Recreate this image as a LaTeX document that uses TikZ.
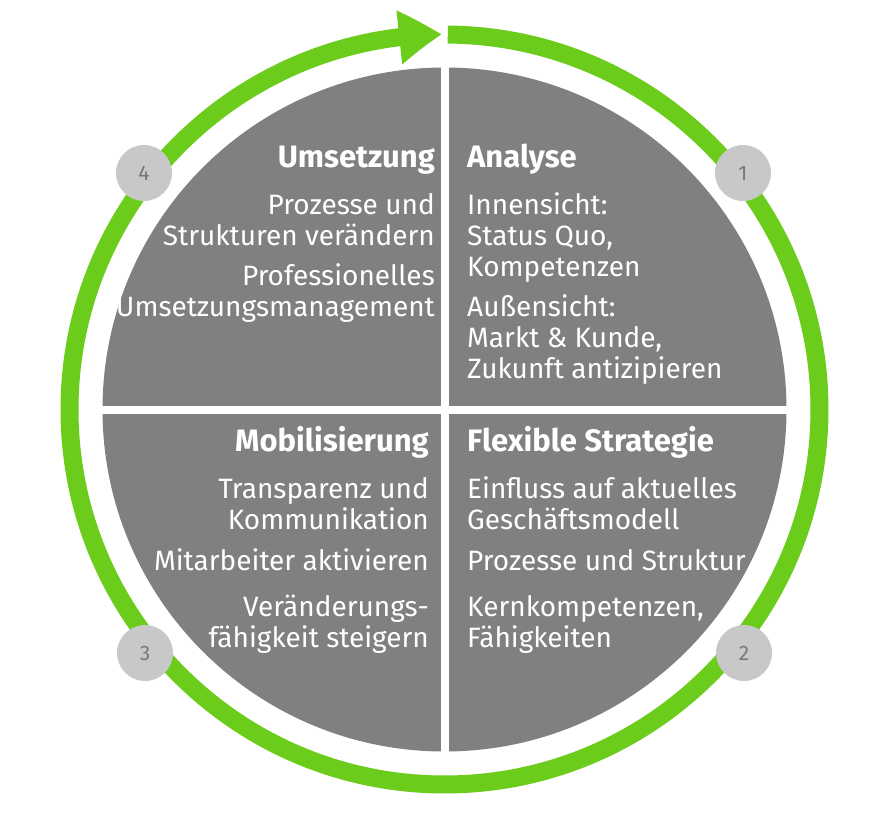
\documentclass[tikz,border=0pt]{standalone}
\usepackage{fontspec}
\setmainfont{Fira Sans}
\usetikzlibrary{arrows.meta,bending}
\definecolor{ringgreen}{RGB}{108,204,28}
\definecolor{quadgray}{RGB}{128,128,128}
\definecolor{stepgray}{RGB}{200,200,200}
\definecolor{numgray}{RGB}{120,120,120}
\tikzset{
  txt/.style={inner sep=0pt, text=white, font=\fontsize{28}{31}\selectfont},
  headl/.style={txt, anchor=base east, align=right, font=\fontsize{31}{31}\selectfont\bfseries},
  headr/.style={txt, anchor=base west, align=left, font=\fontsize{31}{31}\selectfont\bfseries},
  iteml/.style={txt, anchor=base east, align=right},
  itemr/.style={txt, anchor=base west, align=left},
  stepdot/.style={circle, fill=stepgray, minimum size=56pt, inner sep=0pt,
    text=numgray, font=\fontsize{21}{21}\selectfont},
  ring/.style={draw=ringgreen, line width=18pt,
    -{Triangle[length=43pt, width=51pt, bend]}}
}
\begin{document}
\begin{tikzpicture}[x=1pt, y=1pt]
  \useasboundingbox (0,0) rectangle (891,-830);
  \coordinate (c) at (444.5,-409.5);
  % disc in four quadrants
  \fill[quadgray] (c) circle[radius=342];
  \draw[white, line width=8pt] ([yshift=350]c) -- ([yshift=-350]c);
  \draw[white, line width=8pt] ([xshift=-350]c) -- ([xshift=350]c);
  % cycle arrow
  \draw[ring] ([shift={(89.5:375)}]c) arc[start angle=89.5, end angle=-269.6, radius=375];
  % step numbers
  \node[stepdot] (s1) at (743,-173) {1};
  \node[stepdot] (s2) at (744,-653) {2};
  \node[stepdot] (s3) at (145,-653) {3};
  \node[stepdot] (s4) at (144,-173) {4};
  % Umsetzung (base = last line)
  \node[headl] (umsetzung) at (435,-167) {Umsetzung};
  \node[iteml] (um1) at (435,-245) {Prozesse und\\Strukturen verändern};
  \node[iteml] (um2) at (435,-316) {Professionelles\\Umsetzungsmanagement};
  % Analyse
  \node[headr] (analyse) at (467,-167) {Analyse};
  \node[itemr] (an1) at (467,-276) {Innensicht:\\Status Quo,\\Kompetenzen};
  \node[itemr] (an2) at (467,-378) {Außensicht:\\Markt \& Kunde,\\Zukunft antizipieren};
  % Mobilisierung
  \node[headl] (mobil) at (429,-451) {Mobilisierung};
  \node[iteml] (mo1) at (429,-529) {Transparenz und\\Kommunikation};
  \node[iteml] (mo2) at (429,-570) {Mitarbeiter aktivieren};
  \node[iteml] (mo3) at (429,-647) {Veränderungs-\\fähigkeit steigern};
  % Flexible Strategie
  \node[headr] (strategie) at (467,-451) {Flexible Strategie};
  \node[itemr] (st1) at (467,-529) {Einfluss auf aktuelles\\Geschäftsmodell};
  \node[itemr] (st2) at (467,-570) {Prozesse und Struktur};
  \node[itemr] (st3) at (467,-647) {Kernkompetenzen,\\Fähigkeiten};
\end{tikzpicture}
\end{document}
